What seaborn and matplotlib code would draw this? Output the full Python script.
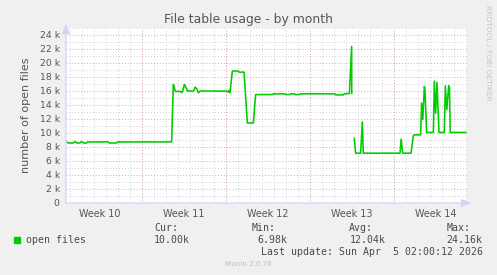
import numpy as np
import pandas as pd
import matplotlib
matplotlib.use("Agg")
import matplotlib.pyplot as plt
import seaborn as sns
from matplotlib.ticker import MultipleLocator, FuncFormatter, FixedLocator
from matplotlib.patches import Rectangle

# ---- data (days since Monday of week 10; NaN marks a gap) ----
days = [0.72, 0.86, 1.28, 1.35, 1.5, 1.56, 1.83, 1.9, 2.05, 2.11, 2.39, 2.45,
        4.19, 4.25, 4.89, 4.95, 9.47,
        9.61, 9.7, 9.78, 10.2, 10.3, 10.38, 10.53, 10.68, 10.8, 11.3, 11.42,
        11.55, 11.7, 11.85, 14.0, 14.15, 14.25, 14.33, 14.53, 15.0, 15.15,
        15.3, 15.5, 15.78, 16.28, 16.47, 17.9, 17.95, 18.9, 19.0, 19.3, 19.4,
        19.7, 19.8, 20.1, 20.2, 20.6, 23.08, 23.15, 23.78, 23.85, 24.28, 24.47,
        24.48, 24.5,
        24.69, 24.8, 25.22, 25.36, 25.44, 28.5, 28.6, 28.72, 29.42, 29.61, 29.7,
        30.22, 30.3, 30.4, 30.53, 30.58, 30.72, 31.28, 31.36, 31.47, 31.58,
        31.75, 32.19, 32.28, 32.4, 32.56, 32.62, 32.69, 34.0]
open_files = [8700, 8550, 8550, 8700, 8700, 8550, 8550, 8700, 8700, 8550, 8550, 8700,
              8700, 8550, 8550, 8700, 8700,
              16900, 16400, 15900, 15900, 15700, 15900, 16900, 16400, 15950, 15950, 16500,
              16300, 15700, 15950, 15950, 15800, 16050, 15700, 18800, 18800, 18600,
              18650, 18650, 11400, 11400, 15450, 15450, 15550, 15550, 15450, 15450, 15550,
              15550, 15450, 15450, 15550, 15550, 15550, 15400, 15400, 15550, 15600, 22300,
              15600, np.nan,
              9250, 7100, 7100, 11550, 7100, 7100, 9100, 7100, 7100, 9600, 9700,
              9700, 14250, 11900, 16600, 16100, 10050, 10050, 17350, 12800, 17200,
              10050, 10050, 16700, 13300, 16700, 16500, 10050, 10050]

week_numbers = [10, 11, 12, 13, 14]
week_labels = ["Week 10", "Week 11", "Week 12", "Week 13", "Week 14"]

legend_name = "open files"
stat_names = ["Cur:", "Min:", "Avg:", "Max:"]
stat_values = ["10.00k", "6.98k", "12.04k", "24.16k"]
title = "File table usage - by month"
ylabel = "number of open files"
last_update = "Last update: Sun Apr  5 02:00:12 2026"
footer = "Munin 2.0.76"
watermark = "RRDTOOL / TOBI OETIKER"

# ---- styling ----
W, H = 497, 275
BG = "#f0f0f0"
AXIS = "#cfd6f8"
FONT = "#555555"
LINE = "#00cc00"
GRID_MINOR = "#d2d2d2"
GRID_MAJOR = "#dba8a8"

sns.set_theme(style="white")
plt.rcParams["font.family"] = ["DejaVu Sans"]

fig = plt.figure(figsize=(W / 100, H / 100), dpi=100, facecolor=BG)
ax_l, ax_r, ax_t, ax_b = 66, 467, 27.5, 203
ax = fig.add_axes([ax_l / W, 1 - ax_b / H, (ax_r - ax_l) / W, (ax_b - ax_t) / H])
ax.set_facecolor("white")

df = pd.DataFrame({"day": days, "files": open_files})
df["seg"] = df["files"].isna().cumsum()
df = df.dropna()
sns.lineplot(data=df, x="day", y="files", units="seg", estimator=None,
             sort=False, color=LINE, lw=1.15, ax=ax, legend=False, zorder=5)

x0, x1 = 0.667, 34.083
ax.set_xlim(x0, x1)
ax.set_ylim(0, 25000)

# x ticks: labels mid-week, minor every day
mid = [(w - week_numbers[0]) * 7 + 3.5 for w in week_numbers]
ax.xaxis.set_major_locator(FixedLocator(mid))
ax.set_xticklabels(week_labels)
ax.xaxis.set_minor_locator(MultipleLocator(1))
ax.yaxis.set_major_locator(MultipleLocator(2000))
ax.yaxis.set_minor_locator(MultipleLocator(1000))
ax.yaxis.set_major_formatter(FuncFormatter(lambda v, p: "0" if v == 0 else f"{int(v/1000)} k"))

ax.tick_params(axis="x", which="major", length=0, pad=4, labelsize=6.9, labelcolor=FONT)
ax.tick_params(axis="x", which="minor", length=2, width=0.7, color="#bbbbbb", direction="out")
ax.tick_params(axis="y", which="major", length=2.5, width=0.7, color=AXIS, pad=2,
               labelsize=6.7, labelcolor=FONT)
ax.tick_params(axis="y", which="minor", length=0)

dot = (0, (1, 2))
ax.grid(False)
ax.xaxis.grid(True, which="minor", color=GRID_MINOR, lw=0.7, linestyle=dot)
ax.yaxis.grid(True, which="minor", color=GRID_MINOR, lw=0.7, linestyle=dot)
ax.yaxis.grid(True, which="major", color=GRID_MAJOR, lw=0.7, linestyle=dot)
for w in week_numbers[1:]:
    ax.axvline((w - week_numbers[0]) * 7, color=GRID_MAJOR, lw=0.7, linestyle=dot, zorder=1)
ax.set_axisbelow(True)

for s in ax.spines.values():
    s.set_visible(False)
ax.set_xlabel("")
ax.set_ylabel(ylabel, fontsize=8, color=FONT, labelpad=6)

# axes with arrows
ax.annotate("", xy=(1.018, 0), xytext=(-0.01, 0), xycoords="axes fraction",
            arrowprops=dict(arrowstyle="-|>,head_length=0.5,head_width=0.2", color=AXIS, lw=0.9),
            annotation_clip=False, zorder=6)
ax.annotate("", xy=(0, 1.038), xytext=(0, -0.015), xycoords="axes fraction",
            arrowprops=dict(arrowstyle="-|>,head_length=0.5,head_width=0.2", color=AXIS, lw=0.9),
            annotation_clip=False, zorder=6)

def ft(x, y, s, **kw):
    fig.text(x / W, 1 - y / H, s, va="center", **kw)

ft(248.5, 19, title, ha="center", fontsize=8.9, color=FONT)
ft(488, 53, watermark, ha="center", rotation=270, fontsize=5.4, color="#c4c4c4")

mono = dict(family="DejaVu Sans Mono", fontsize=7.15, color="#4a4a4a")
fig.patches.append(Rectangle((14 / W, 1 - 243 / H), 6 / W, 6 / H, transform=fig.transFigure,
                             color=LINE, figure=fig))
ft(26.5, 240, legend_name, ha="left", **mono)
name_x = [154, 251.7, 349.3, 446.7]
val_x = [154, 257.7, 349.3, 446.7]
for nx, vx, n, v in zip(name_x, val_x, stat_names, stat_values):
    ft(nx, 228.3, n, ha="left", **mono)
    ft(vx, 240, v, ha="left", **mono)
ft(482.7, 251.7, last_update, ha="right", **mono)
ft(248, 264, footer, ha="center", fontsize=5.1, color="#bdbdbd")

fig.savefig("out.png", dpi=100, facecolor=BG)
